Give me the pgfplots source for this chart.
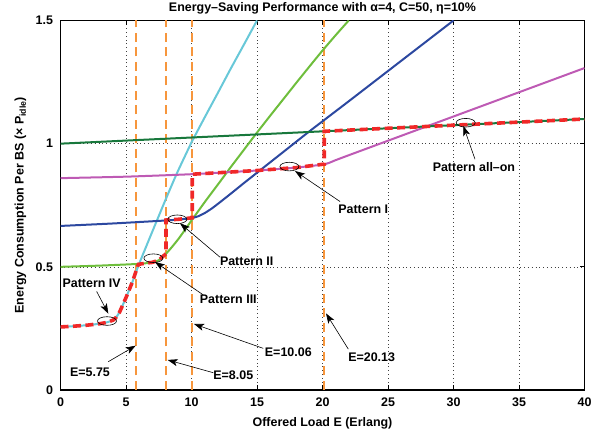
\documentclass[border=0pt]{standalone}
\usepackage{pgfplots}
\pgfplotsset{compat=1.18}
\usepackage{fontspec}
\setmainfont{Liberation Sans}
\usetikzlibrary{arrows.meta}
\definecolor{ccyan}{RGB}{104,200,216}
\definecolor{cgreen}{RGB}{110,190,60}
\definecolor{cblue}{RGB}{44,72,160}
\definecolor{cmag}{RGB}{190,90,180}
\definecolor{cdgreen}{RGB}{24,120,60}
\definecolor{cred}{RGB}{240,40,40}
\definecolor{corange}{RGB}{247,150,60}
\begin{document}
\begin{tikzpicture}[font=\bfseries\fontsize{12.5}{14}\selectfont]
\useasboundingbox (-60.5bp,-39bp) rectangle (546.5bp,390bp);
\begin{axis}[
  scale only axis, width=524bp, height=369.5bp,
  xmin=0, xmax=40, ymin=0, ymax=1.5,
  xtick={0,5,...,40}, ytick={0,0.5,1,1.5},
  /pgf/number format/assume math mode=true,
  ticklabel style={font=\bfseries\fontsize{12.5}{14}\selectfont},
  xticklabel style={yshift=-4bp},
  yticklabel style={xshift=-4bp},
  tick align=inside, tick pos=both,
  major tick length=5bp,
  tick style={line width=0.8pt, black},
  grid=major, grid style={dash pattern=on 0.8bp off 3bp, black!75, line width=0.6pt},
  axis line style={line width=1.1pt},
  every axis title shift=0pt,
  title={Energy–Saving Performance with α=4, C=50, η=10\%},
  title style={at={(axis description cs:0.5,1)}, anchor=base, yshift=8.5bp, inner sep=0pt, font=\bfseries\fontsize{12.5}{14}\selectfont},
  xlabel={Offered Load E (Erlang)},
  xlabel style={at={(axis description cs:0.5,0)}, anchor=base, yshift=-36bp, inner sep=0pt, font=\bfseries\fontsize{12.5}{14}\selectfont},
  ylabel={Energy Consumption Per BS (× P\textsubscript{idle})},
  ylabel style={at={(axis description cs:-0.0765,0.5)}, anchor=center, font=\bfseries\fontsize{12.5}{14}\selectfont},
  every axis plot/.append style={line width=2bp},
  clip=true,
]
% orange vertical lines
\addplot[corange, line width=2bp, dash pattern=on 9bp off 5.5bp] coordinates {(5.75,0) (5.75,1.5)};
\addplot[corange, line width=2bp, dash pattern=on 9bp off 5.5bp] coordinates {(8.05,0) (8.05,1.5)};
\addplot[corange, line width=2bp, dash pattern=on 9bp off 5.5bp] coordinates {(10.06,0) (10.06,1.5)};
\addplot[corange, line width=2bp, dash pattern=on 9bp off 5.5bp] coordinates {(20.13,0) (20.13,1.5)};
% Pattern IV (cyan)
\addplot[ccyan, smooth, tension=0.3] coordinates {
(0,0.256) (1,0.259) (2,0.263) (3,0.269) (3.5,0.274) (4,0.283) (4.2,0.292) (4.5,0.315) (5,0.375) (5.5,0.44) (6,0.512)
(7,0.642) (8,0.77) (8.6,0.845) (9,0.893) (10,1.005) (11,1.106) (12,1.205) (13,1.305) (14,1.402) (15,1.5)};
% Pattern III (green)
\addplot[cgreen, smooth, tension=0.3] coordinates {
(0,0.5) (3,0.505) (6,0.512) (7,0.518) (7.5,0.527) (8,0.55) (8.5,0.58) (9,0.613) (9.5,0.65) (10,0.688)
(11,0.762) (12,0.833) (13,0.905) (14,0.975) (15,1.045) (16,1.113) (17,1.18) (18,1.247) (19,1.313) (20,1.378) (21,1.44) (22,1.5)};
% Pattern II (blue)
\addplot[cblue, smooth, tension=0.3] coordinates {
(0,0.666) (4,0.676) (8,0.688) (9,0.692) (10,0.698) (10.5,0.705) (11,0.718) (11.5,0.735) (12,0.755) (13,0.797)
(14,0.84) (15,0.882) (17,0.966) (19,1.05) (22,1.172) (25,1.295) (28,1.418) (30,1.5)};
% Pattern I (magenta)
\addplot[cmag, smooth, tension=0.3] coordinates {
(0,0.86) (5,0.866) (10,0.876) (15,0.891) (18,0.903) (20,0.915) (20.5,0.922) (21,0.933) (22,0.953) (25,1.012) (28,1.071) (34,1.189) (40,1.307)};
% all-on (dark green)
\addplot[cdgreen] coordinates {(0,1.0) (40,1.1)};
% optimal (red dashed)
\addplot[cred, line width=3.6bp, dash pattern=on 8bp off 4.5bp] coordinates {
(0,0.256) (1,0.259) (2,0.263) (3,0.269) (3.5,0.274) (4,0.283) (4.2,0.292) (4.5,0.315) (5,0.375) (5.5,0.44) (5.94,0.51)
(6.5,0.515) (7,0.518) (7.5,0.527) (8.05,0.553) (8.05,0.69) (9,0.693) (10.06,0.699) (10.06,0.876)
(15,0.891) (18,0.903) (20.13,0.917) (20.13,1.0503) (40,1.1)};
% ellipses
\draw[black, line width=0.6pt] (axis cs:3.55,0.28) ellipse [x radius=9.5bp, y radius=4.3bp];
\draw[black, line width=0.6pt] (axis cs:7.09,0.535) ellipse [x radius=9.5bp, y radius=4.3bp];
\draw[black, line width=0.6pt] (axis cs:8.92,0.693) ellipse [x radius=9.5bp, y radius=4.3bp];
\draw[black, line width=0.6pt] (axis cs:17.47,0.907) ellipse [x radius=9.5bp, y radius=4.3bp];
\draw[black, line width=0.6pt] (axis cs:30.93,1.085) ellipse [x radius=9.5bp, y radius=4.3bp];
% arrows
\tikzset{arr/.style={black, line width=0.6pt, -{Stealth[length=10bp, width=7bp, inset=2.5bp]}}}
\draw[arr] (axis cs:2.76,0.40) -- (axis cs:3.65,0.31);
\draw[arr] (axis cs:10.9,0.386) -- (axis cs:7.21,0.52);
\draw[arr] (axis cs:12.18,0.539) -- (axis cs:9.12,0.677);
\draw[arr] (axis cs:21.34,0.765) -- (axis cs:17.9,0.889);
\draw[arr] (axis cs:31.64,0.937) -- (axis cs:30.75,1.072);
\draw[arr] (axis cs:3.65,0.115) -- (axis cs:5.74,0.18);
\draw[arr] (axis cs:11.67,0.07) -- (axis cs:8.18,0.122);
\draw[arr] (axis cs:15.48,0.169) -- (axis cs:10.19,0.268);
\draw[arr] (axis cs:21.97,0.166) -- (axis cs:20.27,0.311);
% labels
\tikzset{lab/.style={font=\bfseries\fontsize{12.5}{14}\selectfont, inner sep=0pt}}
\node[lab] at (axis cs:2.38,0.433) {Pattern IV};
\node[lab] at (axis cs:12.81,0.37) {Pattern III};
\node[lab] at (axis cs:14.21,0.521) {Pattern II};
\node[lab] at (axis cs:23.11,0.733) {Pattern I};
\node[lab] at (axis cs:31.56,0.907) {Pattern all–on};
\node[lab] at (axis cs:2.25,0.072) {E=5.75};
\node[lab] at (axis cs:13.19,0.061) {E=8.05};
\node[lab] at (axis cs:17.39,0.152) {E=10.06};
\node[lab] at (axis cs:23.75,0.135) {E=20.13};
\end{axis}
\end{tikzpicture}
\end{document}
